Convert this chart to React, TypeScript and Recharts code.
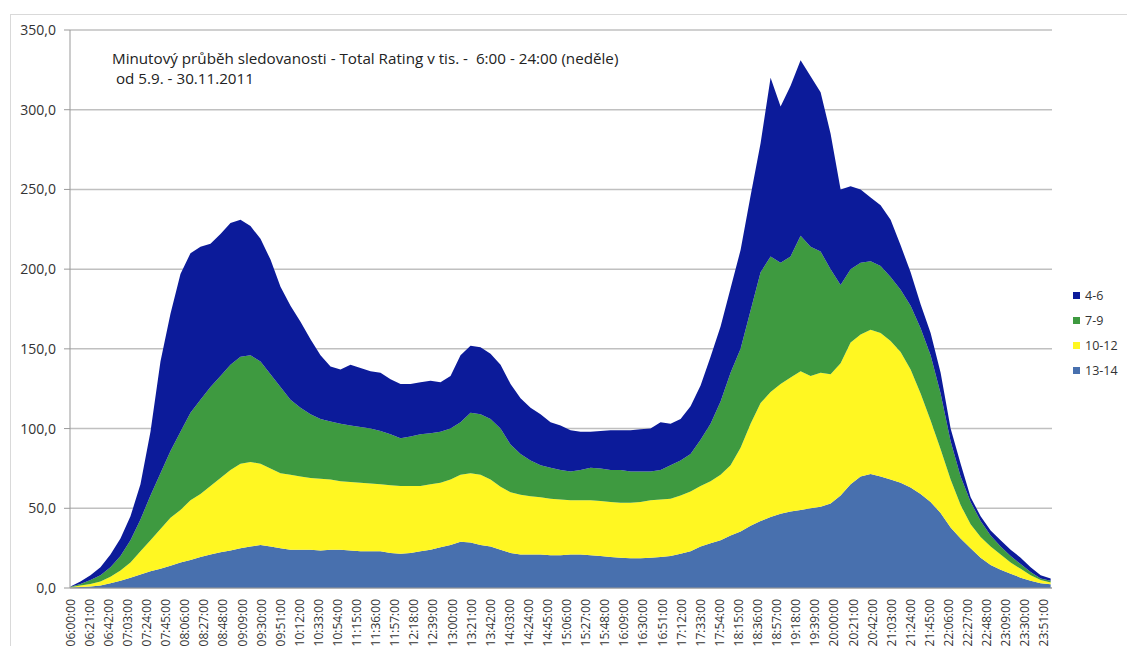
import React from "react";
import { AreaChart, Area, XAxis, YAxis, CartesianGrid } from "recharts";

const times = [
  "06:00","06:11","06:22","06:33","06:44","06:55","07:06","07:17","07:28","07:39",
  "07:50","08:01","08:12","08:23","08:34","08:45","08:56","09:07","09:18","09:29",
  "09:40","09:51","10:02","10:13","10:24","10:35","10:46","10:57","11:08","11:19",
  "11:30","11:41","11:52","12:03","12:14","12:25","12:36","12:47","12:58","13:09",
  "13:20","13:31","13:42","13:53","14:04","14:15","14:26","14:37","14:48","14:59",
  "15:10","15:21","15:32","15:43","15:54","16:05","16:16","16:27","16:38","16:49",
  "17:00","17:11","17:22","17:33","17:44","17:55","18:06","18:17","18:28","18:39",
  "18:50","19:01","19:12","19:23","19:34","19:45","19:56","20:07","20:18","20:29",
  "20:40","20:51","21:02","21:13","21:24","21:35","21:46","21:57","22:08","22:19",
  "22:30","22:41","22:52","23:03","23:14","23:25","23:36","23:47","23:58",
];

const s13_14 = [
  0.3,0.6,1,1.5,3,4.5,6.5,8.5,10.5,12,
  14,16,17.5,19.5,21,22.5,23.5,25,26,27,
  26,25,24,24,24,23.5,24,24,23.5,23,
  23,23,22,21.5,22,23,24,25.5,27,29,
  28.5,27,26,24,22,21,21,21,20.5,20.5,
  21,21,20.5,20,19.5,19,18.6,18.6,19,19.5,
  20,21.5,23,26,28,30,33,35.5,39,42,
  44.5,46.5,48,49,50,51,53,58,65,70,
  71.5,70,68,66,63,59,54,47,38,31,
  25,19,14.5,11.5,9,6.5,4.5,3,2.3,
];

const s10_12 = [
  0.2,0.9,1.5,2.5,4,6.5,9.5,14.5,19.5,25,
  30,33,37.5,39.5,43,46.5,50.5,53,53,51,
  49,47,47,46,45,45,44,43,43,43,
  42.5,42,42.5,42.5,42,41,41,40.5,41,42,
  43.5,44,42,39.5,38,37.5,36.5,36,35.5,35,
  34,34,34.5,34.5,34.5,34.5,34.9,35.4,36,36,
  36,36.5,37.5,38,39,41,44,52.5,64,74,
  78.5,81.5,84,87,83,84,81,83,89,89,
  90.5,90,87,82,74,63,51,40,30,21,
  15,13,11.5,9.5,7,5.5,3.5,2,1.2,
];

const s7_9 = [
  0.3,1,2.5,4,6,9,14,20,28,35,
  42,49,55,59,62,64,66,67,67,64,
  59,54,47,43,40,37.5,36.5,36,35.5,35,
  34.5,33.5,32,30,31,32.5,32,32,32,33,
  38,38,38,36.5,30,25.5,22.5,20,19.5,18.5,
  18,19,20.5,20.5,20,20.5,19.5,19,18,18.5,
  21,22,23.5,29,36,46,58,62,71,82,
  85,76,76,85,81,76,66,49,46,45,
  43,42,40,39,40,41,41,35,24,18,
  14,10,7,5,4,3,2,1,1,
];

const s4_6 = [
  0.2,1.5,3,5,8,11,15,22,40,70,
  86,99,100,96,90,89,89,86,81,77,
  72,63,59,54,47,40,34.5,34,38,37,
  36,36.5,34.5,34,33,32.5,33,31,33,42,
  42,42,41,40,38,35,33,32,28.5,28,
  26,24,22.5,23.5,25,25,26,26.5,27,30,
  26,26,30,34,42,47,53,62,72,81,
  112,98,107,110,107,100,85,60,52,46,
  40,38,36,28,21,15,14,13,8,8,
  3,3,3,4,4,4,3,2,1.5,
];

const tickLabels = [
  "06:00:00","06:21:00","06:42:00","07:03:00","07:24:00","07:45:00","08:06:00","08:27:00",
  "08:48:00","09:09:00","09:30:00","09:51:00","10:12:00","10:33:00","10:54:00","11:15:00",
  "11:36:00","11:57:00","12:18:00","12:39:00","13:00:00","13:21:00","13:42:00","14:03:00",
  "14:24:00","14:45:00","15:06:00","15:27:00","15:48:00","16:09:00","16:30:00","16:51:00",
  "17:12:00","17:33:00","17:54:00","18:15:00","18:36:00","18:57:00","19:18:00","19:39:00",
  "20:00:00","20:21:00","20:42:00","21:03:00","21:24:00","21:45:00","22:06:00","22:27:00",
  "22:48:00","23:09:00","23:30:00","23:51:00",
];

const yTicks = [0, 50, 100, 150, 200, 250, 300, 350];

const seriesNames = ["4-6", "7-9", "10-12", "13-14"];
const COLORS: Record<string, string> = {
  "4-6": "#0c1b9a",
  "7-9": "#3e9a40",
  "10-12": "#fff722",
  "13-14": "#4870ae",
};

const toMin = (t: string) => {
  const [h, m] = t.split(":").map(Number);
  return (h - 6) * 60 + m;
};

const labelByMin: Record<number, string> = {};
tickLabels.forEach((l) => {
  labelByMin[toMin(l)] = l;
});

const data = times.map((t, i) => ({
  m: toMin(t),
  "13-14": s13_14[i],
  "10-12": s10_12[i],
  "7-9": s7_9[i],
  "4-6": s4_6[i],
}));

const xTicks = tickLabels.map((l) => toMin(l));

const FONT = "'Open Sans', 'Liberation Sans', sans-serif";

const XTick = (props: any) => {
  const { x, y, payload } = props;
  return (
    <g transform={`translate(${x},${y})`}>
      <text
        transform="rotate(-90)"
        x={-3}
        y={0}
        dy="0.35em"
        textAnchor="end"
        fill="#333"
        fontSize={12}
        fontFamily={FONT}
      >
        {labelByMin[payload.value]}
      </text>
    </g>
  );
};

export default function App() {
  return (
    <div
      style={{
        position: "absolute",
        left: 0,
        top: 0,
        width: 1127,
        height: 646,
        background: "#fff",
        overflow: "hidden",
      }}
    >
      <div
        style={{
          position: "absolute",
          left: 10,
          top: 14,
          width: 1117,
          height: 632,
          borderLeft: "1px solid #d9d9d9",
          borderTop: "1px solid #d9d9d9",
          boxSizing: "border-box",
        }}
      />
      <AreaChart
        width={1127}
        height={646}
        data={data}
        margin={{ top: 30, right: 75, bottom: 0, left: 0 }}
        style={{ position: "absolute", left: 0, top: 0 }}
      >
        <CartesianGrid vertical={false} stroke="#c0c0c0" strokeWidth={1.5} />
        <XAxis
          dataKey="m"
          type="number"
          domain={[-0.5, 1079.5]}
          ticks={xTicks}
          interval={0}
          height={58}
          tick={<XTick />}
          tickLine={false}
          axisLine={{ stroke: "#999" }}
        />
        <YAxis
          type="number"
          domain={[0, 350]}
          ticks={yTicks}
          interval={0}
          width={70}
          tickSize={6}
          tickMargin={8}
          tickLine={{ stroke: "#999" }}
          axisLine={{ stroke: "#999" }}
          tick={{ fill: "#333", fontSize: 14, fontFamily: FONT }}
          tickFormatter={(v: number) => v.toFixed(1).replace(".", ",")}
        />
        <Area type="linear" dataKey="13-14" stackId="1" stroke="none" fill={COLORS["13-14"]} fillOpacity={1} isAnimationActive={false} />
        <Area type="linear" dataKey="10-12" stackId="1" stroke="none" fill={COLORS["10-12"]} fillOpacity={1} isAnimationActive={false} />
        <Area type="linear" dataKey="7-9" stackId="1" stroke="none" fill={COLORS["7-9"]} fillOpacity={1} isAnimationActive={false} />
        <Area type="linear" dataKey="4-6" stackId="1" stroke="none" fill={COLORS["4-6"]} fillOpacity={1} isAnimationActive={false} />
      </AreaChart>
      <div
        style={{
          position: "absolute",
          left: 1073,
          top: 283,
          fontFamily: FONT,
          fontSize: 12.5,
          color: "#333",
        }}
      >
        {seriesNames.map((n) => (
          <div key={n} style={{ display: "flex", alignItems: "center", height: 25 }}>
            <span
              style={{
                display: "inline-block",
                width: 7,
                height: 7,
                background: COLORS[n],
                marginRight: 5,
              }}
            />
            <span>{n}</span>
          </div>
        ))}
      </div>
      <div
        style={{
          position: "absolute",
          left: 112,
          top: 48,
          fontFamily: FONT,
          fontSize: 15.2,
          lineHeight: "20px",
          color: "#222",
          whiteSpace: "pre",
        }}
      >
        {"Minutový průběh sledovanosti - Total Rating v tis. -  6:00 - 24:00 (neděle)\n od 5.9. - 30.11.2011"}
      </div>
    </div>
  );
}
